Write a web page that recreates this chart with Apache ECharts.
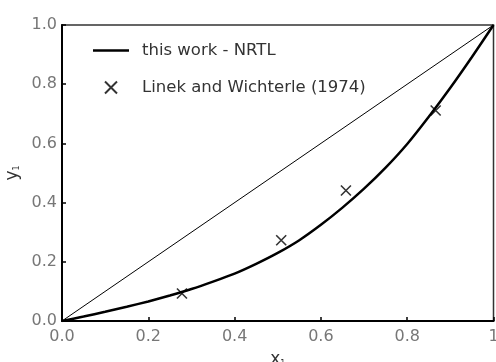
<!DOCTYPE html>
<html><head><meta charset="utf-8">
<script src="https://cdn.jsdelivr.net/npm/echarts@6/dist/echarts.min.js"></script>
<style>html,body{margin:0;padding:0;background:#fff}#c{width:496px;height:362px}</style>
</head><body><div id="c"></div>
<script>
var xTicks = [0, 0.2, 0.4, 0.6, 0.8, 1.0];
var yTicks = [0, 0.2, 0.4, 0.6, 0.8, 1.0];
var nrtlX = [0, 0.05, 0.1, 0.15, 0.2, 0.25, 0.3, 0.35, 0.4, 0.45, 0.5, 0.55, 0.6, 0.65, 0.7, 0.75, 0.8, 0.85, 0.9, 0.95, 1.0];
var nrtlY = [0, 0.015, 0.031, 0.048, 0.066, 0.086, 0.108, 0.133, 0.16, 0.193, 0.23, 0.273, 0.325, 0.383, 0.447, 0.518, 0.598, 0.69, 0.788, 0.892, 1.0];
var expX = [0.278, 0.508, 0.658, 0.866];
var expY = [0.093, 0.273, 0.441, 0.711];
var diagX = [0, 1];
var diagY = [0, 1];
var lineName = 'this work - NRTL';
var expName = 'Linek and Wichterle (1974)';

function zip(a, b) { return a.map(function (v, i) { return [v, b[i]]; }); }
var crossPath = 'path://M0,0L10,10M10,0L0,10';
var font = 'DejaVu Sans';
var chart = echarts.init(document.getElementById('c'));
chart.setOption({
  animation: false,
  textStyle: { fontFamily: font },
  grid: { left: 62, right: 2.5, top: 25, bottom: 41, show: true, borderColor: '#333', borderWidth: 1.5, containLabel: false, outerBoundsMode: 'none' },
  legend: {
    orient: 'vertical', left: 88, top: 37, itemWidth: 36, itemHeight: 12, itemGap: 20,
    textStyle: { fontSize: 16.5, color: '#333', fontFamily: font, padding: [0, 0, 0, 8] },
    data: [
      { name: lineName, icon: 'path://M0,0L36,0L36,2.5L0,2.5Z', itemStyle: { color: '#000' } },
      { name: expName }
    ]
  },
  xAxis: {
    type: 'value', min: 0, max: 1, interval: 0.2,
    axisLine: { lineStyle: { color: '#000', width: 2 } },
    axisTick: { inside: true, length: 4, lineStyle: { color: '#000', width: 1.5 } },
    splitLine: { show: false },
    axisLabel: { fontSize: 16, color: '#777', margin: 8, formatter: function (v) { return v === 1 ? '1' : v.toFixed(1); } },
    name: '{b|x}{s|1}', nameLocation: 'middle', nameGap: 30,
    nameTextStyle: { rich: { b: { fontSize: 17, color: '#333', fontFamily: font }, s: { fontSize: 8, color: '#333', padding: [9, 0, 0, 0], fontFamily: font } } }
  },
  yAxis: {
    type: 'value', min: 0, max: 1, interval: 0.2,
    axisLine: { lineStyle: { color: '#000', width: 2 } },
    axisTick: { inside: true, length: 4, lineStyle: { color: '#000', width: 1.5 } },
    splitLine: { show: false },
    axisLabel: { fontSize: 16, color: '#777', margin: 5, formatter: function (v) { return v.toFixed(1); } },
    name: '{b|y}{s|1}', nameLocation: 'middle', nameGap: 36, nameRotate: 90,
    nameTextStyle: { rich: { b: { fontSize: 17, color: '#333', fontFamily: font }, s: { fontSize: 8, color: '#333', padding: [9, 0, 0, 0], fontFamily: font } } }
  },
  series: [
    { type: 'line', name: 'diag', data: zip(diagX, diagY), showSymbol: false, lineStyle: { color: '#000', width: 1 }, silent: true },
    { type: 'line', name: lineName, data: zip(nrtlX, nrtlY), smooth: 0.2, showSymbol: false, lineStyle: { color: '#000', width: 2.5 }, itemStyle: { color: '#000' } },
    { type: 'scatter', name: expName, data: zip(expX, expY), symbol: crossPath, symbolSize: 10,
      itemStyle: { color: 'transparent', borderColor: '#000', borderWidth: 1.6 } }
  ]
});
</script></body></html>
